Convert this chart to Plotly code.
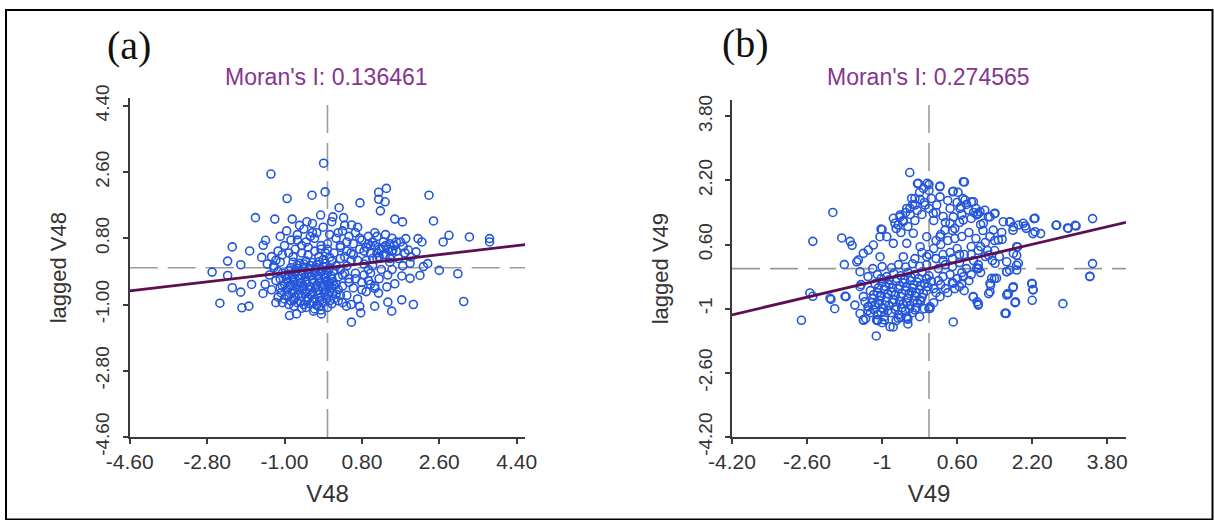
import plotly.graph_objects as go

# ---------------- data ----------------
# Panel (a): V48 (standardised) vs spatially lagged V48
v48_x = [-0.09, -1.315, -0.94, -0.36, -0.055, 0.27, 0.755, 1.19, 1.37, 1.19, 1.34, 1.23, 2.36,
         -1.675, -1.225, -0.82, -0.16, 0.125, 0.375, 1.565, 1.745, 2.465, 2.825, 3.3, 3.77, 3.77,
         2.69, 2.105, 2.195, 1.82, -2.215, -1.81, -2.323, -2.017, -2.683, -2.323, -2.215, -2.017,
         -2.503, -1.99, -1.828, -1.765, -0.883, -0.72, -0.325, -0.145, 0.557, 0.773, 0.44, 1.097,
         1.493, 1.727, 1.997, 1.403, 1.187, 1.565, 2.6, 3.032, 3.167, 2.15, 2.33, 1.943, 2.06,
         -1.44, -1.495, -0.48, 0.56, -1.53, 1.88, 2.23, 1.92, 1.73, 1.38, 1.1, 1.52, 1.76, 1.92,
         -0.85, -0.7, -0.55, -0.4, -0.25, -0.1, 0.05, 0.15, -0.9, -0.75, -0.6, -0.45, -0.3, -0.15,
         0.0, 0.12, -0.95, -0.8, -0.65, -0.5, -0.35, -0.2, -0.05, 0.1, 0.25, -1.0, -0.85, -0.7,
         -0.55, -0.4, -0.25, -0.1, 0.05, 0.2, -0.95, -0.8, -0.65, -0.5, -0.35, -0.2, -0.05, 0.1,
         0.25, -1.05, -0.9, -0.75, -0.6, -0.45, -0.3, -0.15, 0.0, 0.15, -0.85, -0.7, -0.55, -0.4,
         -0.25, -0.1, 0.05, 0.2, -0.8, -0.65, -0.5, -0.35, -0.2, -0.05, 0.1, -0.6, -0.3, 0.0,
         -0.78, -0.15, -1.3, -1.15, -1.0, -0.85, -0.7, -0.55, -0.4, -0.25, -0.1, 0.05, 0.2, 0.35,
         0.5, 0.65, 0.8, 0.95, -1.2, -1.05, -0.9, -0.75, -0.6, -0.45, -0.3, -0.15, 0.0, 0.15, 0.3,
         0.45, 0.6, 0.75, -0.95, -0.65, -0.35, 0.1, 0.4, 0.7, -1.1, -0.8, -0.5, -0.2, 0.3, 0.55,
         0.35, 0.45, 0.6, 0.7, 0.8, 0.9, 0.35, 0.5, 0.65, 0.85, 1.0, 0.4, 0.55, 0.75, 0.3, 0.45,
         -1.2, -1.3, -1.15, -1.05, -1.35, -1.25, -1.45, -1.1, -1.4, -1.5, 0.9, 1.0, 1.1, 1.2, 1.3,
         1.4, 1.5, 1.6, 1.05, 1.25, 1.45, 1.55, 1.35, 1.15, 0.95, 1.65, 1.7, 1.2, 1.4, 1.0, 1.5,
         1.1, 1.75, 1.8,
         -0.78, -0.62, -0.48, -0.33, -0.18, -0.02, 0.1, -0.82, -0.68, -0.52, -0.38, -0.22, -0.08,
         0.05, 0.2, -0.88, -0.72, -0.58, -0.42, -0.28, -0.12, 0.02, 0.15, -0.92, -0.78, -0.62,
         -0.48, -0.32, -0.18, -0.02, 0.12, -0.98, -0.82, -0.68, -0.52, -0.38, -0.22, -0.08, 0.08,
         -0.9, -0.75, -0.6, -0.45, -0.3, -0.15, 0.02, -0.7, -0.55, -0.4, -0.25, -0.1, 0.05,
         -0.5, -0.2, -0.9, -1.0, -1.08, -1.1, 0.3, 0.25,
         1.25, 1.35, 1.45, 1.3, 1.15, 1.5, 1.05, 1.6, 0.85, 0.95,
         0.3, 0.45, 0.6, 0.75, 0.9, 1.05, 1.2, 1.35, 0.25, 0.4, 0.55, 0.7, 0.85, 1.0, 1.15, 1.3,
         1.45, 0.35, 0.5, 0.65, 0.8, 0.95, 1.1, -1.25, -1.15, -1.05, -0.95, -1.2, -1.1, -0.6,
         -0.45, -0.3, -0.15, 0.0, -0.7, -0.35, -0.05]
v48_lag = [2.84, 2.545, 1.88, 1.97, 2.06, 1.63, 1.76, 2.05, 2.155, 1.86, 1.79, 1.545, 1.97,
           1.36, 1.32, 1.32, 1.43, 1.38, 1.36, 1.32, 1.245, 1.27, 0.88, 0.835, 0.79, 0.70,
           0.70, 0.79, 0.70, 0.79, 0.565, 0.455, 0.18, 0.08, -0.12, -0.21, -0.545, -0.665,
           -0.965, -1.09, -1.045, -0.455, -1.3, -1.255, -1.18, -1.255, -1.48, -1.227, -1.045, -1.045,
           -1.18, -0.873, -1.0, -0.936, -0.69, -0.436, -0.073, -0.164, -0.918, -0.21, 0.11, 0.29, 0.43,
           0.745, 0.61, 1.25, 1.16, 0.28, 0.48, 0.03, -0.29, -0.225, -0.52, -0.56, 0.48, 0.57, 0.12,
           -0.9, -0.95, -1.0, -0.98, -1.02, -0.95, -0.9, -0.85, -0.75, -0.8, -0.78, -0.82, -0.85, -0.8,
           -0.75, -0.7, -0.6, -0.62, -0.6, -0.65, -0.68, -0.62, -0.6, -0.55, -0.6, -0.45, -0.48, -0.45,
           -0.5, -0.52, -0.47, -0.45, -0.42, -0.45, -0.3, -0.32, -0.3, -0.35, -0.33, -0.3, -0.28, -0.3,
           -0.25, -0.15, -0.18, -0.15, -0.2, -0.17, -0.15, -0.12, -0.15, -0.1, 0.0, -0.02, 0.02, -0.03,
           0.0, 0.03, 0.0, 0.05, 0.15, 0.12, 0.18, 0.14, 0.16, 0.12, 0.18, -1.1, -1.12, -1.08,
           -1.05, -1.15, 0.3, 0.45, 0.6, 0.75, 0.9, 1.05, 0.85, 0.95, 1.1, 0.9, 0.8, 1.0,
           0.85, 0.95, 0.75, 0.85, 0.2, 0.35, 0.4, 0.5, 0.4, 0.55, 0.45, 0.6, 0.5, 0.4, 0.55,
           0.45, 0.35, 0.5, 1.0, 1.15, 1.2, 1.25, 1.15, 1.1, 0.85, 0.3, 0.7, 0.3, 0.25, 0.2,
           -0.5, -0.75, -0.55, -0.85, -0.4, -0.65, -0.95, -0.3, -0.15, -0.2, -0.45, -0.15, -1.0, -1.05, -0.05, 0.05,
           -0.35, -0.6, -0.8, -0.95, -0.2, 0.05, -0.45, -0.55, 0.1, -0.7, 0.2, 0.4, 0.6, 0.3, 0.7,
           0.5, 0.8, 0.45, 0.05, -0.05, 0.15, 0.6, 0.9, 0.85, 0.65, 0.25, 0.7, -0.3, -0.2, -0.15, -0.05,
           0.95, 0.05, 0.4,
           -0.88, -0.92, -0.9, -0.93, -0.9, -0.85, -0.98, -0.68, -0.72, -0.7, -0.75, -0.72, -0.68,
           -0.65, -0.72, -0.52, -0.55, -0.58, -0.6, -0.55, -0.52, -0.5, -0.48, -0.38, -0.4, -0.42,
           -0.4, -0.4, -0.38, -0.36, -0.38, -0.22, -0.25, -0.22, -0.25, -0.22, -0.22, -0.2, -0.22,
           -0.08, -0.08, -0.1, -0.05, -0.07, -0.04, -0.06, 0.07, 0.1, 0.06, 0.08, 0.22, 0.28,
           -1.08, -1.05, -1.0, -0.85, -0.68, -0.3, -0.75, -0.9,
           0.5, 0.35, 0.65, 0.55, 0.4, 0.45, 0.25, 0.7, 0.1, -0.05,
           0.6, 0.7, 0.65, 0.8, 0.55, 0.7, 0.5, 0.6, 0.95, 0.3, 0.4, 0.2, 0.45, 0.6, 0.25, 0.35,
           0.25, -0.2, -0.4, -0.3, -0.6, -0.35, -0.5, 0.0, -0.1, -0.5, -0.75, -0.95, 0.15, 0.6,
           0.35, 0.8, 0.5, 0.65, 0.75, 0.95, 0.4]

# Panel (b): V49 (standardised) vs spatially lagged V49
v49_x = [-0.41, -0.246, 0.0, 0.23, 0.517, 0.755, -2.05, -2.477, -1.86, -1.68, -1.64, -1.805, -1.0,
         -2.54, -2.477, -2.09, -2.01, -2.72, -1.79, -1.395, -1.09, -1.124, -0.763, -0.45, 0.517, 0.0,
         1.026, 0.944, 1.272, 1.64, 1.846, 1.68, 1.79, 2.2, 2.215, 2.2, 2.855, 3.43, 3.487, 3.487,
         3.117, 2.953, 2.707, 2.24, 2.05, 2.215, 2.38, 1.72, 1.79, 1.887, 1.87, 1.87, 1.72, 1.395,
         1.313, 1.05, 1.395, 1.19, 1.05, 0.903, 0.722, 1.56, 1.272,
         -0.228, -1.023, -0.76, -0.618, -0.405, -0.298, -0.19, -0.37, -0.548, -0.654, -0.831, -0.654,
         -1.115, -1.045, -1.294, -1.507, -1.47, -1.47, -1.364, -1.294, -1.045, -0.974, -0.475, -0.298,
         -0.19, -0.37, 0.732, 0.505, 0.235, -0.036, 0.768, 0.945, 1.088, 1.408, 1.265, 1.728, 1.905,
         2.26, 2.069, 2.26, 2.723, 2.97, 3.135, 1.834, 1.69, 1.798, 1.642, 1.052, 0.945, 1.3, 1.905,
         1.87, 1.657, 1.337, 1.408, 1.87, 1.798, 1.478, 1.052, 0.732, 0.519, 0.235, 0.022,
         -0.475, -0.618, -0.725, -0.085, 0.09, 0.165, 0.235, 0.661, 0.519, 0.448, 0.341, 0.235,
         0.839, 1.017, 0.732, 1.158, 1.3, 1.37, 1.584, 1.798, 2.01, -0.9, -1.187, -0.76, -1.4, -1.54,
         -0.334, -0.475, -0.19, -0.048, -0.547, -0.048, -1.044,
         -2.11, -1.77, -1.58, -1.47, -1.4, -1.115, -0.475, 0.02, 1.05, 1.3, 1.44, 1.657, 1.657, 1.62,
         2.19, 2.22, 3.43, 1.017, 0.70, 1.657,
         -1.25, -1.1, -0.95, -0.8, -0.65, -0.5, -0.35, -1.3, -1.15, -1.0, -0.85, -0.7, -0.55, -0.4,
         -0.25, -1.2, -1.05, -0.9, -0.75, -0.6, -0.45, -0.3, -0.15, -1.25, -1.1, -0.95, -0.8, -0.65,
         -0.5, -0.35, -0.2, -0.05, -1.15, -1.0, -0.85, -0.7, -0.55, -0.4, -0.25, -0.1, 0.05, -1.3,
         -1.1, -0.9, -0.75, -0.6, -0.45, -0.3, -0.15, 0.0, -1.2, -1.0, -0.8, -0.65, -0.5, -0.35,
         -0.2, -0.05, -1.35, -1.0, -0.7, -0.45, -0.2, -1.4, -1.45, -0.1, 0.1, 0.15,
         0.1, 0.25, 0.4, 0.55, 0.3, 0.45, 0.6, 0.75, 0.85, 0.2, 0.35, 0.5, 0.65, 0.8, 0.95, 1.1,
         1.2, 0.15, 0.3, 0.45, 0.6, 0.75, 0.9, 1.05, 1.2, 0.1, 0.25, 0.55, 0.7, 0.85, 1.0, 1.15,
         1.3, 1.4, 1.35, 0.0, -0.15, -0.3,
         -0.6, -0.45, -0.3, -0.15, 0.0, -0.5, -0.35, -0.2, 0.05, 0.1, 0.3, 0.45, 0.6, 0.55, 0.7,
         0.9, 1.0, 1.1,
         -1.18, -1.02, -0.88, -0.72, -0.58, -0.42, -0.28, -1.22, -1.08, -0.92, -0.78, -0.62, -0.48,
         -0.32, -0.18, -1.18, -1.02, -0.88, -0.72, -0.58, -0.42, -0.28, -0.12, -1.08, -0.92, -0.78,
         -0.62, -0.48, -0.32, -0.18, -0.02, -1.02, -0.85, -0.68, -0.52, -0.38, -0.22, -0.05,
         -0.95, -0.6, -1.3, -1.1,
         -0.7, -0.55, -0.4, -0.25, -0.1, -0.3, 0.0, -0.12, 0.15, 0.35, 0.4, 0.62, 0.68, 0.8, 0.95,
         0.5, 0.65, 0.25, 0.4, 0.15,
         0.35, 0.5, 0.65, 0.2, 0.7, 0.9, 1.05, 0.9, 1.1, 1.25, 0.5, 0.65, 0.3, 1.4, 1.55, 1.5]
v49_lag = [2.395, 2.12, 2.095, 2.04, 1.93, 2.16, 1.4, 0.68, 0.765, 0.68, 0.58, 0.1, 0.97,
           -0.607, -0.69, -0.77, -1.0, -1.29, -0.69, -1.29, -1.29, -1.68, -1.456, -1.265, -1.33, -1.0,
           -0.83, -0.707, -0.624, -1.12, -0.83, -0.624, -0.474, -0.79, -0.524, -0.375, -0.874, -0.19,
           0.125, 1.247, 1.08, 1.014, 1.08, 1.247, 1.064, 0.873, 0.873, 1.164, 0.956, 0.54, 0.332,
           0.083, -0.04, -0.25, -0.416, 0.0, 1.372, 1.455, 1.372, 1.663, 1.746, 0.73, 0.332,
           2.127, 0.987, 1.254, 1.336, 1.503, 1.586, 1.727, 1.75, 1.17, 1.087, -1.45, -1.24,
           -1.282, 0.795, 0.463, 0.214, -0.078, -0.452, -0.826, -0.95, -0.7, -0.99, -1.2, -1.033,
           -0.784, -0.577, 2.167, 1.917, 2.06, 2.127, 1.71, 1.668, 1.418, 1.378, 1.294, 1.17, 1.087,
           1.254, 1.004, 0.92, 1.087, 1.004, 1.062, -0.85, -0.634, -0.452, -1.115, -0.883, -0.7,
           -0.577, 0.132, -0.035, -0.078, -0.245, 0.132, 0.546, 0.38, 0.713, 0.007, -0.203, -0.367,
           -0.7, -0.95,
           1.5, 1.29, 1.13, 1.585, 1.38, 1.585, 1.79, 1.5, 1.29, 1.13, 0.96, 0.795,
           1.46, 1.34, 1.21, 1.13, 1.29, 0.96, 1.17, 1.04, 1.13, 0.795, 0.588, 0.63, 0.38, 0.17,
           0.88, 0.63, 0.546, 0.795, 0.296, 0.296, 0.296,
           -0.74, -0.7, -0.91, -1.12, -1.28, -1.28, -1.24, -0.99, -0.91, -0.37, -0.24, -0.08, -0.66,
           -1.115, -0.37, -0.53, -0.2, 0.007, -0.37, 0.17,
           -1.1, -1.15, -1.2, -1.1, -1.15, -1.05, -1.1, -0.95, -0.9, -0.98, -0.92, -0.95, -0.88,
           -0.92, -0.85, -0.75, -0.8, -0.72, -0.78, -0.7, -0.75, -0.68, -0.72, -0.55, -0.6, -0.52,
           -0.58, -0.5, -0.55, -0.48, -0.52, -0.55, -0.38, -0.35, -0.4, -0.32, -0.36, -0.3, -0.34,
           -0.38, -0.32, -0.2, -0.15, -0.2, -0.12, -0.18, -0.1, -0.15, -0.08, -0.18, 0.0, 0.05,
           0.02, 0.1, 0.04, 0.12, 0.06, 0.1, -1.25, -1.35, -1.3, -1.38, -1.2, -0.7, -0.4, -1.0,
           -0.85, -0.6,
           -0.5, -0.4, -0.6, -0.5, -0.2, -0.15, -0.25, -0.55, -0.3, 0.0, 0.1, 0.05, 0.15, 0.0, 0.2,
           -0.1, 0.3, 0.25, 0.35, 0.4, 0.5, 0.35, 0.55, 0.45, 0.65, 0.5, 0.6, 0.75, 0.8, 0.9, 0.75,
           0.95, 0.8, 0.45, 0.2, 0.35, 0.4, 0.25,
           0.9, 1.05, 1.2, 1.35, 1.5, 1.4, 1.6, 1.9, 1.75, 1.2, 1.3, 1.5, 1.65, 1.0, 1.35, 1.25,
           1.5, 1.1,
           -1.02, -1.08, -1.05, -1.02, -0.98, -1.0, -0.98, -0.85, -0.88, -0.82, -0.85, -0.82, -0.85,
           -0.8, -0.82, -0.65, -0.68, -0.62, -0.65, -0.62, -0.62, -0.6, -0.62, -0.48, -0.45, -0.48,
           -0.42, -0.45, -0.4, -0.42, -0.45, -0.25, -0.28, -0.25, -0.28, -0.22, -0.25, -0.25,
           -1.28, -1.22, -1.05, -1.3,
           1.0, 1.2, 1.35, 1.45, 1.65, 1.75, 1.95, 2.0, 1.4, 1.15, 1.7, 1.9, 1.55, 1.6, 1.4,
           0.95, 1.15, 0.85, 0.7, 0.7,
           -0.5, -0.35, -0.45, -0.3, -0.1, -0.15, 0.1, 0.35, 0.55, 0.45, 0.25, 0.35, 0.2, 0.7, 0.9, 0.3]

moran_a = 0.136461
moran_b = 0.274565
ticks_a = [-4.6, -2.8, -1.0, 0.8, 2.6, 4.4]
ticktext_a = ["-4.60", "-2.80", "-1.00", "0.80", "2.60", "4.40"]
ticks_b = [-4.2, -2.6, -1.0, 0.6, 2.2, 3.8]
ticktext_b = ["-4.20", "-2.60", "-1", "0.60", "2.20", "3.80"]
lim_a = 4.6
lim_b = 4.2

assert len(v48_x) == len(v48_lag), (len(v48_x), len(v48_lag))
assert len(v49_x) == len(v49_lag), (len(v49_x), len(v49_lag))

# ---------------- figure ----------------
W, H = 1214, 520
FONT = "Liberation Sans, Arial, sans-serif"
PT_COLOR = "#2456dc"
LINE_COLOR = "#5c0f52"
TITLE_COLOR = "#85358f"
AX_COLOR = "#3a3a3a"
DASH_COLOR = "#9b9b9b"

fig = go.Figure()

panels = [
    dict(x=v48_x, y=v48_lag, I=moran_a, lim=lim_a, ticks=ticks_a, tt=ticktext_a,
         xname="V48", yname="lagged V48", xa="x", ya="y",
         dx=[129.7, 525.3], dy=[437.0, 98.4]),
    dict(x=v49_x, y=v49_lag, I=moran_b, lim=lim_b, ticks=ticks_b, tt=ticktext_b,
         xname="V49", yname="lagged V49", xa="x2", ya="y2",
         dx=[732.0, 1126.0], dy=[437.0, 100.2]),
]

layout_axes = {}
for i, p in enumerate(panels):
    sfx = "" if i == 0 else "2"
    fig.add_trace(go.Scatter(
        x=p["x"], y=p["y"], mode="markers", xaxis=p["xa"], yaxis=p["ya"],
        marker=dict(symbol="circle-open", size=8, color=PT_COLOR, line=dict(width=1.6, color=PT_COLOR)),
        showlegend=False, hoverinfo="x+y"))
    # Moran scatterplot regression line: slope equals Moran's I
    lx = [-p["lim"], p["lim"]]
    fig.add_trace(go.Scatter(
        x=lx, y=[p["I"] * v for v in lx], mode="lines", xaxis=p["xa"], yaxis=p["ya"],
        line=dict(color=LINE_COLOR, width=2.8), showlegend=False, hoverinfo="skip"))
    common = dict(showline=True, linecolor=AX_COLOR, linewidth=1.5, ticks="outside", ticklen=5,
                  tickwidth=1.5, tickcolor=AX_COLOR, showgrid=False, zeroline=False, automargin=False,
                  range=[-p["lim"], p["lim"]], tickmode="array", tickvals=p["ticks"], ticktext=p["tt"])
    layout_axes["xaxis" + sfx] = dict(
        common, domain=[p["dx"][0] / W, p["dx"][1] / W], anchor="y" + sfx,
        tickfont=dict(family=FONT, size=21, color="#333333"),
        title=dict(text=p["xname"], font=dict(family=FONT, size=24, color="#333333"), standoff=13))
    layout_axes["yaxis" + sfx] = dict(
        common, domain=[(H - p["dy"][0]) / H, (H - p["dy"][1]) / H], anchor="x" + sfx,
        tickangle=-90, ticklabelstandoff=6, tickfont=dict(family=FONT, size=19, color="#333333"),
        title=dict(text=p["yname"], font=dict(family=FONT, size=22, color="#333333"), standoff=20))

fig.update_layout(**layout_axes)

dash = "28px,10px"
for p in panels:
    # dashed mean lines (data standardised: means at 0)
    fig.add_shape(type="line", xref=p["xa"], yref=p["ya"], x0=-p["lim"], x1=p["lim"], y0=0, y1=0,
                  line=dict(color=DASH_COLOR, width=1.6, dash=dash), layer="below")
    fig.add_shape(type="line", xref=p["xa"], yref=p["ya"], x0=0, x1=0, y0=-p["lim"], y1=p["lim"],
                  line=dict(color=DASH_COLOR, width=1.6, dash=dash), layer="below")

ann_common = dict(xref="paper", yref="paper", showarrow=False, xanchor="center", yanchor="middle")
annotations = [
    dict(ann_common, text="(a)", x=128.5 / W, y=(H - 45) / H,
         font=dict(family="Liberation Serif, Times New Roman, serif", size=40, color="#111111")),
    dict(ann_common, text="(b)", x=745 / W, y=(H - 43) / H,
         font=dict(family="Liberation Serif, Times New Roman, serif", size=40, color="#111111")),
    dict(ann_common, text="Moran's I: %.6f" % moran_a, x=326.6 / W, y=(H - 77) / H,
         font=dict(family=FONT, size=23, color=TITLE_COLOR)),
    dict(ann_common, text="Moran's I: %.6f" % moran_b, x=928 / W, y=(H - 77) / H,
         font=dict(family=FONT, size=23, color=TITLE_COLOR)),
]

fig.add_shape(type="rect", xref="paper", yref="paper", x0=6 / W, x1=1212.5 / W,
              y0=0.5 / H, y1=(H - 10) / H, line=dict(color="#000000", width=2))

fig.update_layout(width=W, height=H, margin=dict(l=0, r=0, t=0, b=0, pad=0, autoexpand=False),
                  paper_bgcolor="white", plot_bgcolor="white", annotations=annotations,
                  font=dict(family=FONT))

fig.write_html("out.html", config={"displayModeBar": False},
               post_script="document.body.style.margin='0px';document.body.style.padding='0px';")
